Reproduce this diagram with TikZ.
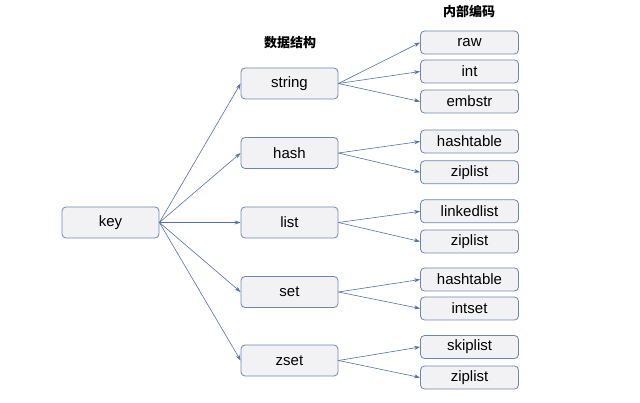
\documentclass[tikz,border=0pt]{standalone}
\usepackage{fontspec}
\setmainfont{Liberation Sans}
\newfontfamily\cjk{Noto Sans CJK SC}
\usetikzlibrary{arrows.meta}
\definecolor{boxline}{RGB}{112,132,176}
\definecolor{boxfill}{RGB}{242,242,244}
\definecolor{arrowc}{RGB}{84,112,170}
\begin{document}
\begin{tikzpicture}[x=1pt,y=-1pt,
  boxa/.style={draw=boxline,fill=boxfill,rounded corners=4pt,line width=0.8pt,minimum width=97pt,minimum height=31pt,inner sep=0pt,font=\fontsize{15}{15}\selectfont},
  boxb/.style={draw=boxline,fill=boxfill,rounded corners=4pt,line width=0.8pt,minimum width=98pt,minimum height=23pt,inner sep=0pt,font=\fontsize{15}{15}\selectfont},
  conn/.style={draw=arrowc,line width=0.6pt,-{Stealth[length=6pt,width=4pt]}},
  head/.style={font=\cjk\bfseries\fontsize{13}{13}\selectfont}]
\useasboundingbox (0,0) rectangle (640,403);
\node[boxa] (key) at (110.5,222.5) {key};
\node[boxa] (string) at (289.5,83.5) {string};
\node[boxa] (hash) at (289.5,153) {hash};
\node[boxa] (list) at (289.5,222.5) {list};
\node[boxa] (set) at (289.5,292) {set};
\node[boxa] (zset) at (289.5,360.5) {zset};
\node[boxb] (raw) at (469.5,42.5) {raw};
\node[boxb] (int) at (469.5,71.5) {int};
\node[boxb] (embstr) at (469.5,101.5) {embstr};
\node[boxb] (hashtable1) at (469.5,141.5) {hashtable};
\node[boxb] (ziplist1) at (469.5,172.3) {ziplist};
\node[boxb] (linkedlist) at (469.5,211.3) {linkedlist};
\node[boxb] (ziplist2) at (469.5,241.5) {ziplist};
\node[boxb] (hashtable2) at (469.5,279.5) {hashtable};
\node[boxb] (intset) at (469.5,308.5) {intset};
\node[boxb] (skiplist) at (469.5,347) {skiplist};
\node[boxb] (ziplist3) at (469.5,377.5) {ziplist};
\node[head] (h1) at (290,43) {数据结构};
\node[head] (h2) at (469,12) {内部编码};
\foreach \t in {string,hash,list,set,zset} \draw[conn] (key.east) -- (\t.west);
\foreach \t in {raw,int,embstr} \draw[conn] (string.east) -- (\t.west);
\foreach \t in {hashtable1,ziplist1} \draw[conn] (hash.east) -- (\t.west);
\foreach \t in {linkedlist,ziplist2} \draw[conn] (list.east) -- (\t.west);
\foreach \t in {hashtable2,intset} \draw[conn] (set.east) -- (\t.west);
\foreach \t in {skiplist,ziplist3} \draw[conn] (zset.east) -- (\t.west);
\end{tikzpicture}
\end{document}
